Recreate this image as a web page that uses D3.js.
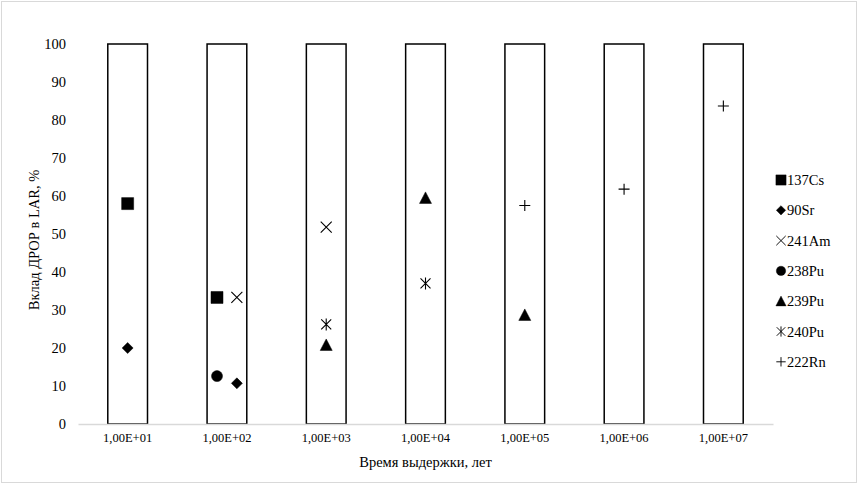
<!DOCTYPE html>
<html>
<head>
<meta charset="utf-8">
<script src="https://d3js.org/d3.v7.min.js"></script>
<style>
  body { margin: 0; background: #fff; }
  text { font-family: "Liberation Serif", "Times New Roman", serif; fill: #000; }
</style>
</head>
<body>
<div id="chart"></div>
<script>
// categories (exposure time)
var categories = ["1,00E+01", "1,00E+02", "1,00E+03", "1,00E+04", "1,00E+05", "1,00E+06", "1,00E+07"];
var barValues = [100, 100, 100, 100, 100, 100, 100];
var yTicks = [0, 10, 20, 30, 40, 50, 60, 70, 80, 90, 100];

// series: x is position on the category axis (1 = first category), y is value in %
var seriesNames = ["137Cs", "90Sr", "241Am", "238Pu", "239Pu", "240Pu", "222Rn"];
var cs137X = [1, 1.9],  cs137Y = [58, 33.3];
var sr90X = [1, 2.1],   sr90Y = [20, 10.7];
var am241X = [2.1, 3],  am241Y = [33.3, 51.8];
var pu238X = [1.9],     pu238Y = [12.6];
var pu239X = [3, 4, 5], pu239Y = [20.8, 59.5, 28.7];
var pu240X = [3, 4],    pu240Y = [26.2, 37];
var rn222X = [5, 6, 7], rn222Y = [57.5, 61.8, 83.7];

var seriesX = [cs137X, sr90X, am241X, pu238X, pu239X, pu240X, rn222X];
var seriesY = [cs137Y, sr90Y, am241Y, pu238Y, pu239Y, pu240Y, rn222Y];
var shapes = ["square", "diamond", "times", "circle", "triangle", "asterisk", "plus"];

var W = 860, H = 485;
var margin = {top: 44, left: 78, right: 87, bottom: 61};
var plotW = W - margin.left - margin.right,
    plotH = H - margin.top - margin.bottom;

var svg = d3.select("#chart").append("svg")
  .attr("width", W).attr("height", H);

// chart border
svg.append("rect")
  .attr("x", 1.5).attr("y", 1.5)
  .attr("width", 855).attr("height", 481)
  .attr("fill", "none").attr("stroke", "#d9d9d9");

var g = svg.append("g")
  .attr("transform", "translate(" + margin.left + "," + margin.top + ")");

var x = d3.scaleBand().domain(categories).range([0, plotW])
  .paddingInner(0.6).paddingOuter(0.3);
var xPos = d3.scaleLinear().domain([0.5, categories.length + 0.5]).range([0, plotW]);
var y = d3.scaleLinear().domain([0, 100]).range([plotH, 0]);

// y tick labels (no axis line)
var yAxis = g.append("g")
  .call(d3.axisLeft(y).tickValues(yTicks).tickSize(0).tickPadding(12));
yAxis.select(".domain").remove();
yAxis.selectAll("text").style("font-family", "Liberation Serif").style("font-size", "14.5px");

// bars
g.selectAll(".bar")
  .data(categories)
  .enter().append("rect")
  .attr("class", "bar")
  .attr("x", function (d) { return x(d); })
  .attr("y", function (d, i) { return y(barValues[i]); })
  .attr("width", x.bandwidth())
  .attr("height", function (d, i) { return plotH - y(barValues[i]); })
  .attr("fill", "#fff")
  .attr("stroke", "#000")
  .attr("stroke-width", 1.5);

// x axis
var xAxis = g.append("g")
  .attr("transform", "translate(0," + plotH + ")")
  .call(d3.axisBottom(x).tickSize(0).tickPadding(9).tickSizeOuter(0));
xAxis.select(".domain").attr("stroke", "#d9d9d9").attr("stroke-width", 1.3);
xAxis.selectAll("text").style("font-family", "Liberation Serif").style("font-size", "12.5px");

// marker paths
function markerPath(shape) {
  switch (shape) {
    case "square": return "M-6,-6H6V6H-6Z";
    case "diamond": return "M0,-5.5L5.5,0L0,5.5L-5.5,0Z";
    case "circle": return "M-5.5,0A5.5,5.5 0 1,0 5.5,0A5.5,5.5 0 1,0 -5.5,0Z";
    case "triangle": return "M0,-6L6,5.5H-6Z";
    case "times": return "M-5.5,-5.5L5.5,5.5M5.5,-5.5L-5.5,5.5";
    case "asterisk": return "M-5,-5L5,5M5,-5L-5,5M0,-6V6";
    case "plus": return "M-5.5,0H5.5M0,-5.5V5.5";
  }
}
function styleMarker(sel, shape) {
  var filled = ["square", "diamond", "circle", "triangle"].indexOf(shape) >= 0;
  sel.attr("d", markerPath(shape))
    .attr("fill", filled ? "#000" : "none")
    .attr("stroke", "#000")
    .attr("stroke-width", filled ? 0.5 : 1.1);
}

seriesNames.forEach(function (name, s) {
  var pts = seriesX[s].map(function (v, i) { return [v, seriesY[s][i]]; });
  g.selectAll(".m" + s)
    .data(pts)
    .enter().append("path")
    .attr("class", "m" + s)
    .attr("transform", function (d) { return "translate(" + xPos(d[0]) + "," + y(d[1]) + ")"; })
    .call(styleMarker, shapes[s]);
});

// legend
var legend = svg.append("g").attr("transform", "translate(781,180)");
seriesNames.forEach(function (name, s) {
  var item = legend.append("g").attr("transform", "translate(0," + (s * 30.3) + ")");
  item.append("path").call(styleMarker, shapes[s])
    .attr("transform", "scale(0.85)");
  item.append("text")
    .attr("x", 6).attr("y", 0).attr("dy", "0.35em")
    .style("font-size", "14.5px")
    .text(name);
});

// axis titles
svg.append("text")
  .attr("x", margin.left + plotW / 2).attr("y", 467)
  .attr("text-anchor", "middle")
  .style("font-size", "14.5px")
  .text("Время выдержки, лет");

svg.append("text")
  .attr("transform", "translate(39,240) rotate(-90)")
  .attr("text-anchor", "middle")
  .style("font-size", "14.5px")
  .text("Вклад ДРОР в LAR, %");
</script>
</body>
</html>
